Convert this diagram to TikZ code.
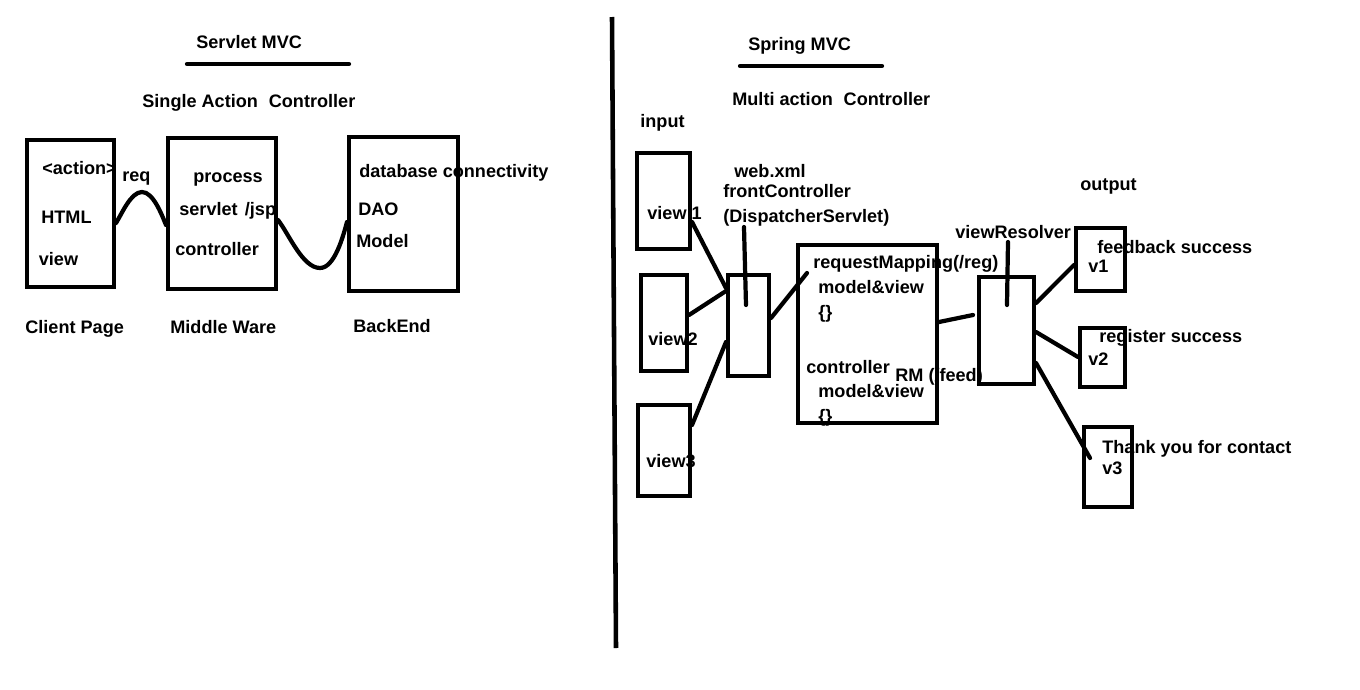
\documentclass[tikz,border=0pt]{standalone}
\usepackage{fontspec}
\setmainfont{Liberation Sans}
\usepackage{tikz}

\newcommand\paintfont{\fontsize{10.3}{12}\selectfont\bfseries}

\begin{document}
\begin{tikzpicture}[x=0.02cm,y=-0.02cm,
  box/.style={draw,line width=2.3pt,inner sep=0pt},
  boxsize/.style 2 args={minimum width=#1*0.02cm,minimum height=#2*0.02cm},
  lbl/.style={font=\paintfont,anchor=base west,inner sep=0pt},
  wire/.style={line width=2.4pt,line cap=round}]
\useasboundingbox (0,0) rectangle (1360,690);

% servlet side
\node[lbl] (tServlet) at (196,48) {Servlet MVC};
\draw[wire] (187,64) -- (349,64);
\node[lbl] (tSingle) at (142,107) {Single Action\hspace{0.6em}Controller};

\node[box,boxsize={87}{147}] (client) at (70.5,213.5) {};
\node[lbl] (tAction) at (42,174) {<action>};
\node[lbl] (tHtml) at (41,223) {HTML};
\node[lbl] (tView) at (38.5,265) {view};
\node[lbl] (tClient) at (25,333) {Client Page};

\node[box,boxsize={108}{151}] (middle) at (222,213.5) {};
\node[lbl] (tProcess) at (193,182) {process};
\node[lbl] (tServJsp) at (179,215) {servlet\hspace{0.4em}/jsp};
\node[lbl] (tCtrl) at (175,255) {controller};
\node[lbl] (tMiddle) at (170,333) {Middle Ware};

\node[box,boxsize={109}{154}] (backend) at (403.5,214) {};
\node[lbl] (tDb) at (359,177) {database connectivity};
\node[lbl] (tDao) at (358,215) {DAO};
\node[lbl] (tModel) at (356,247) {Model};
\node[lbl] (tBack) at (353,332) {BackEnd};

\node[lbl] (tReq) at (122,181) {req};
\draw[wire] (client.east |- 0,223) to[out=58,in=180,looseness=.7] (142,192)
  to[out=0,in=112,looseness=.7] (middle.west |- 0,225);
\draw[wire] (middle.east |- 0,220) to[out=-52,in=180,looseness=.7] (320,268)
  to[out=0,in=-105,looseness=.7] (backend.west |- 0,222);

% divider
\draw[line width=2.6pt] (612,17) -- (616,648);

% spring side
\node[lbl] (tSpring) at (748,50) {Spring MVC};
\draw[wire] (740,66) -- (882,66);
\node[lbl] (tMulti) at (732,105) {Multi action\hspace{0.6em}Controller};
\node[lbl] (tInput) at (640,127) {input};

\node[box,boxsize={53}{96}] (view1) at (663.5,201) {};
\node[lbl] (tView1) at (647,219) {view 1};
\node[box,boxsize={46}{96}] (view2) at (664,323) {};
\node[lbl] (tView2) at (648,345) {view2};
\node[box,boxsize={52}{91}] (view3) at (664,450.5) {};
\node[lbl] (tView3) at (646,467) {view3};

\node[box,boxsize={41}{101}] (front) at (748.5,325.5) {};
\node[lbl] (tWeb) at (734,177) {web.xml};
\node[lbl] (tFront) at (723,197) {frontController};
\node[lbl] (tDisp) at (723,222) {(DispatcherServlet)};
\coordinate (frontTop) at (744,227);
\coordinate (frontIn) at (746,305);
\draw[wire] (frontTop) -- (frontIn);

\draw[wire] (view1.east |- 0,222) -- (front.west |- 0,288);
\draw[wire] (view2.east |- 0,315) -- (front.west |- 0,291);
\draw[wire] (view3.east |- 0,425) -- (front.west |- 0,342);

\node[box,boxsize={139}{178}] (ctrl) at (867.5,334) {};
\node[lbl] (tReqMap) at (813,268) {requestMapping(/reg)};
\node[lbl] (tMv1) at (818,293) {model\&view};
\node[lbl] (tBr1) at (818,318) {\{\}};
\node[lbl] (tCtrl2) at (806,373) {controller};
\node[lbl] (tRm) at (895,381) {RM (/feed)};
\node[lbl] (tMv2) at (818,397) {model\&view};
\node[lbl] (tBr2) at (818,422) {\{\}};
\coordinate (ctrlIn) at (807,273);
\draw[wire] (front.east |- 0,318) -- (ctrlIn);

\node[box,boxsize={55}{107}] (res) at (1006.5,330.5) {};
\node[lbl] (tRes) at (955,238) {viewResolver};
\coordinate (resTop) at (1008,242);
\coordinate (resIn) at (1007,305);
\draw[wire] (resTop) -- (resIn);
\coordinate (resNear) at (973,315);
\draw[wire] (ctrl.east |- 0,322) -- (resNear);

\node[lbl] (tOutput) at (1080,190) {output};
\node[box,boxsize={49}{63}] (v1) at (1100.5,259.5) {};
\node[lbl] (tFeed) at (1097,253) {feedback success};
\node[lbl] (tV1) at (1088,272) {v1};
\node[box,boxsize={45}{59}] (v2) at (1102.5,357.5) {};
\node[lbl] (tReg) at (1099,342) {register success};
\node[lbl] (tV2) at (1088,365) {v2};
\node[box,boxsize={48}{80}] (v3) at (1108,467) {};
\node[lbl] (tThank) at (1102,453) {Thank you for contact};
\node[lbl] (tV3) at (1102,474) {v3};

\coordinate (v3In) at (1090,458);
\draw[wire] (res.east |- 0,303) -- (v1.west |- 0,265);
\draw[wire] (res.east |- 0,332) -- (v2.west |- 0,357);
\draw[wire] (res.east |- 0,363) -- (v3In);
\end{tikzpicture}
\end{document}
